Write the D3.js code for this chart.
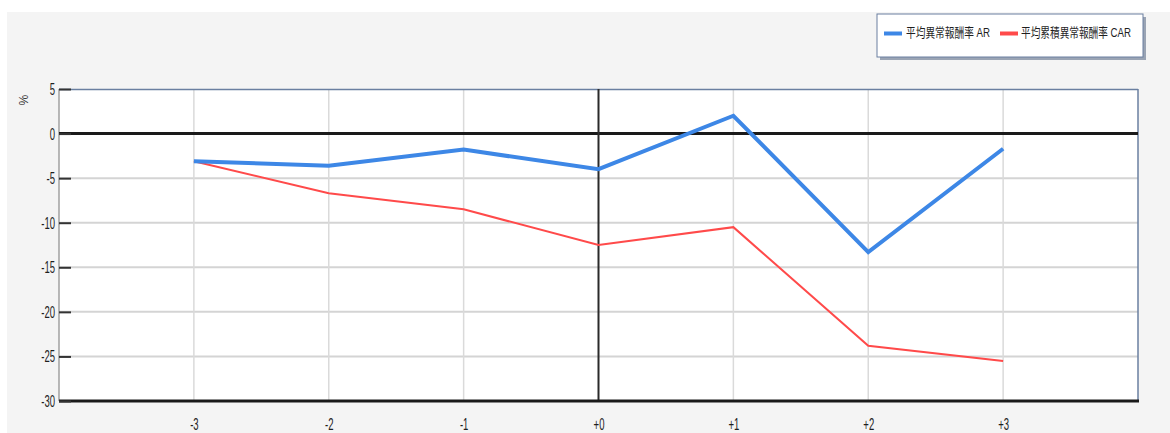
<!DOCTYPE html>
<html>
<head>
<meta charset="utf-8">
<script src="https://cdn.jsdelivr.net/npm/d3@7"></script>
<style>
  html, body { margin: 0; padding: 0; background: #ffffff; }
  svg { display: block; }
  text { font-family: "Liberation Sans", "DejaVu Sans", "Noto Sans CJK TC", sans-serif; }
</style>
</head>
<body>
<svg id="chart" width="1170" height="433"></svg>
<script>
// Event-window days and abnormal returns (%)
const days = [-3, -2, -1, 0, 1, 2, 3];
const dayLabels = ["-3", "-2", "-1", "+0", "+1", "+2", "+3"];
const arValues = [-3.1, -3.6, -1.8, -4.0, 2.0, -13.3, -1.7];
const carValues = [-3.1, -6.7, -8.5, -12.5, -10.5, -23.8, -25.5];
const yTicks = [5, 0, -5, -10, -15, -20, -25, -30];
const seriesNames = ["平均異常報酬率 AR", "平均累積異常報酬率 CAR"];
const seriesColors = ["#3d87e6", "#ff4a4a"];

const svg = d3.select("#chart");
const W = 1170, H = 433;
const plot = { left: 59, top: 89, right: 1138, bottom: 401 };

// Squeeze axis labels into a narrow face
function condense(sel, factor) {
  sel.each(function () {
    const w = this.getComputedTextLength();
    d3.select(this).attr("textLength", w * factor).attr("lengthAdjust", "spacingAndGlyphs");
  });
}

// Background panel
svg.append("rect").attr("x", 0).attr("y", 0).attr("width", W).attr("height", H).attr("fill", "#ffffff");
svg.append("rect").attr("x", 7).attr("y", 12).attr("width", W - 7).attr("height", H - 12).attr("fill", "#f4f4f4");

const x = d3.scaleLinear().domain([-4, 4]).range([plot.left, plot.right]);
const y = d3.scaleLinear().domain([-30, 5]).range([plot.bottom, plot.top]);

// Plot area
svg.append("rect")
  .attr("x", plot.left).attr("y", plot.top)
  .attr("width", plot.right - plot.left).attr("height", plot.bottom - plot.top)
  .attr("fill", "#ffffff");

// Grid lines
svg.append("g").selectAll("line").data(yTicks.filter(d => d !== 0 && d !== 5 && d !== -30)).join("line")
  .attr("x1", plot.left).attr("x2", plot.right)
  .attr("y1", d => y(d)).attr("y2", d => y(d))
  .attr("stroke", "#d4d4d4").attr("stroke-width", 2);
svg.append("g").selectAll("line").data(days.filter(d => d !== 0)).join("line")
  .attr("x1", d => x(d)).attr("x2", d => x(d))
  .attr("y1", plot.top).attr("y2", plot.bottom)
  .attr("stroke", "#dadada").attr("stroke-width", 1.5);

// Plot frame
svg.append("line").attr("x1", plot.left).attr("x2", plot.right).attr("y1", plot.top + 0.5).attr("y2", plot.top + 0.5)
  .attr("stroke", "#6a7fa0").attr("stroke-width", 1.5);
svg.append("line").attr("x1", plot.right).attr("x2", plot.right).attr("y1", plot.top).attr("y2", plot.bottom)
  .attr("stroke", "#6a7fa0").attr("stroke-width", 1.5);
svg.append("line").attr("x1", plot.left).attr("x2", plot.left).attr("y1", plot.top).attr("y2", plot.bottom)
  .attr("stroke", "#a0a0a0").attr("stroke-width", 1.5);

// Reference lines at zero
svg.append("line").attr("x1", plot.left).attr("x2", plot.right).attr("y1", y(0)).attr("y2", y(0))
  .attr("stroke", "#1a1a1a").attr("stroke-width", 3);
svg.append("line").attr("x1", x(0)).attr("x2", x(0)).attr("y1", plot.top).attr("y2", plot.bottom)
  .attr("stroke", "#2a2a2a").attr("stroke-width", 2);

// Bottom axis line
svg.append("line").attr("x1", plot.left).attr("x2", plot.right + 1).attr("y1", plot.bottom).attr("y2", plot.bottom)
  .attr("stroke", "#1a1a1a").attr("stroke-width", 3);

// Y axis
const yAxis = d3.axisLeft(y).tickValues(yTicks).tickSize(-12).tickPadding(16).tickFormat(d => String(d));
const gy = svg.append("g").attr("transform", `translate(${plot.left},0)`).call(yAxis);
gy.select(".domain").remove();
gy.selectAll(".tick line").attr("stroke", "#333").attr("stroke-width", 2);
gy.selectAll(".tick text").attr("font-size", 17).attr("fill", "#1e1e1e")
  .attr("font-family", "'Liberation Sans', sans-serif")
  .attr("x", -4).call(condense, 0.56);

// X axis
const xAxis = d3.axisBottom(x).tickValues(days).tickSize(0).tickPadding(17)
  .tickFormat((d, i) => dayLabels[i]);
const gx = svg.append("g").attr("transform", `translate(0,${plot.bottom})`).call(xAxis);
gx.select(".domain").remove();
gx.selectAll(".tick text").attr("font-size", 17).attr("fill", "#1e1e1e")
  .attr("font-family", "'Liberation Sans', sans-serif").call(condense, 0.56);

// Unit label
svg.append("text").attr("transform", "translate(22,100) rotate(90)")
  .attr("text-anchor", "middle").attr("dominant-baseline", "middle")
  .attr("font-size", 12).attr("fill", "#333").text("%");

// Series lines
const line = d3.line().x((d, i) => x(days[i])).y(d => y(d));
svg.append("path").datum(carValues).attr("d", line)
  .attr("fill", "none").attr("stroke", seriesColors[1]).attr("stroke-width", 2).attr("stroke-linejoin", "miter");
svg.append("path").datum(arValues).attr("d", line)
  .attr("fill", "none").attr("stroke", seriesColors[0]).attr("stroke-width", 4).attr("stroke-linejoin", "miter");

// Legend
const lg = svg.append("g");
lg.append("rect").attr("x", 880).attr("y", 17).attr("width", 266).attr("height", 43).attr("fill", "#9aa4b4");
lg.append("rect").attr("x", 877).attr("y", 14).attr("width", 266).attr("height", 43)
  .attr("fill", "#ffffff").attr("stroke", "#6a7fa0").attr("stroke-width", 1);
const legendX = [884, 1000];
const textX = [906, 1021];
seriesNames.forEach((name, i) => {
  lg.append("line").attr("x1", legendX[i]).attr("x2", legendX[i] + 18).attr("y1", 33.5).attr("y2", 33.5)
    .attr("stroke", seriesColors[i]).attr("stroke-width", 4);
  lg.append("text").attr("x", textX[i]).attr("y", 34).attr("dominant-baseline", "middle")
    .attr("font-size", 13).attr("fill", "#1e1e1e")
    .attr("font-family", "'Noto Sans CJK TC', sans-serif")
    .attr("textLength", i === 0 ? 84 : 110).attr("lengthAdjust", "spacingAndGlyphs")
    .text(name);
});
</script>
</body>
</html>
